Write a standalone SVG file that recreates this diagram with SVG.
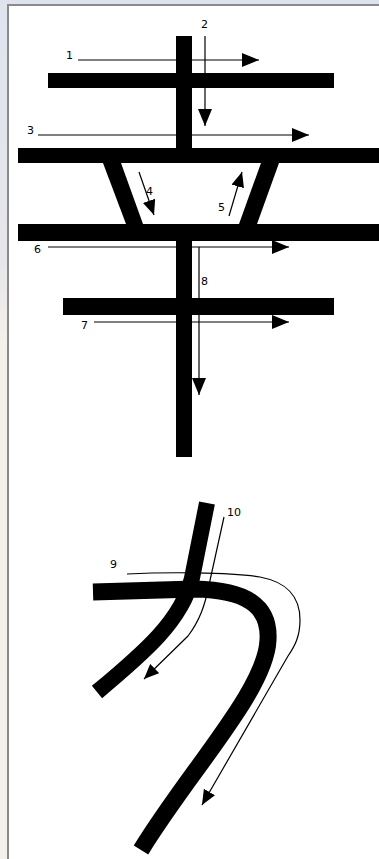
<svg xmlns="http://www.w3.org/2000/svg" width="379" height="859" viewBox="0 0 379 859">
  <defs>
    <linearGradient id="side" x1="0" y1="0" x2="0" y2="1">
      <stop offset="0" stop-color="#dfe4ef"/>
      <stop offset="0.3" stop-color="#e6e6ea"/>
      <stop offset="0.4" stop-color="#f4f0ea"/>
      <stop offset="1" stop-color="#f4f1ec"/>
    </linearGradient>
    <marker id="head" markerUnits="userSpaceOnUse" markerWidth="17" markerHeight="14" refX="17" refY="7" orient="auto">
      <path d="M0,0 L17,7 L0,14 Z" fill="#000"/>
    </marker>
    <marker id="head-s" markerUnits="userSpaceOnUse" markerWidth="15" markerHeight="13" refX="15" refY="6.5" orient="auto">
      <path d="M0,0 L15,6.5 L0,13 Z" fill="#000"/>
    </marker>
  </defs>
  <style>
    .stroke { fill: #000; }
    .brush { fill: none; stroke: #000; stroke-linejoin: round; }
    .guide { fill: none; stroke: #000; stroke-width: 1.2; }
    .lbl { font-family: "DejaVu Sans", "Liberation Sans", sans-serif; font-size: 11px; fill: #000; }
  </style>

  <!-- frame -->
  <rect x="0" y="0" width="379" height="859" fill="url(#side)"/>
  <rect x="0" y="0" width="379" height="4" fill="#dde2ec"/>
  <rect x="8" y="5" width="371" height="854" fill="#fff"/>
  <rect x="7" y="4" width="2" height="855" fill="#8a8a8a"/>
  <rect x="7" y="4" width="372" height="2" fill="#8a8a8a"/>

  <!-- 幸 -->
  <g id="kanji-kou">
    <g id="s-vertical-top"><rect class="stroke" x="176" y="36" width="16" height="114"/></g>
    <g id="s-bar1"><rect class="stroke" x="48" y="73" width="286" height="15"/></g>
    <g id="s-bar2"><rect class="stroke" x="18" y="148" width="361" height="15"/></g>
    <g id="s-left-diag"><polygon class="stroke" points="103,163 121,163 143,224 126,224"/></g>
    <g id="s-right-diag"><polygon class="stroke" points="261,163 279,163 257,224 239,224"/></g>
    <g id="s-bar3"><rect class="stroke" x="18" y="224" width="361" height="17"/></g>
    <g id="s-vertical-bottom"><rect class="stroke" x="176" y="240" width="16" height="217"/></g>
    <g id="s-bar4"><rect class="stroke" x="63" y="298" width="271" height="17"/></g>
  </g>

  <!-- カ -->
  <g id="kana-ka">
    <g id="k-stroke-hook"><path class="brush" stroke-width="17" d="M93,592 L195,589 C245,590 270,605 268,640 C266,690 190,770 141,850"/></g>
    <g id="k-stroke-sweep"><path class="brush" stroke-width="16" d="M207,503 L192,578 C182,620 145,652 97,692"/></g>
  </g>

  <!-- connectors -->
  <g id="connectors">
    <path class="guide" marker-end="url(#head)" d="M78,60 H259"/>
    <path class="guide" marker-end="url(#head)" d="M205,36 V126"/>
    <path class="guide" marker-end="url(#head)" d="M38,135 H309"/>
    <path class="guide" marker-end="url(#head-s)" d="M139,172 L154,215"/>
    <path class="guide" marker-end="url(#head-s)" d="M229,216 L242,172"/>
    <path class="guide" marker-end="url(#head)" d="M48,247 H289"/>
    <path class="guide" marker-end="url(#head)" d="M94,322 H289"/>
    <path class="guide" marker-end="url(#head)" d="M199,247 V395"/>
    <path class="guide" stroke-width="1" marker-end="url(#head-s)" d="M127,574 C165,572 230,572 260,577 C286,582 300,595 300,620 C300,636 295,646 288,656 L202,805"/>
    <path class="guide" stroke-width="1" marker-end="url(#head-s)" d="M224,517 L209,585 C205,605 200,620 188,636 L144,679"/>
  </g>

  <!-- labels -->
  <g id="labels">
    <text class="lbl" x="66" y="59">1</text>
    <text class="lbl" x="201" y="28">2</text>
    <text class="lbl" x="27" y="134">3</text>
    <text class="lbl" x="146" y="195">4</text>
    <text class="lbl" x="218" y="211">5</text>
    <text class="lbl" x="34" y="253">6</text>
    <text class="lbl" x="81" y="329">7</text>
    <text class="lbl" x="201" y="285">8</text>
    <text class="lbl" x="110" y="568" font-size="10">9</text>
    <text class="lbl" x="227" y="516" font-size="10">10</text>
  </g>
</svg>
